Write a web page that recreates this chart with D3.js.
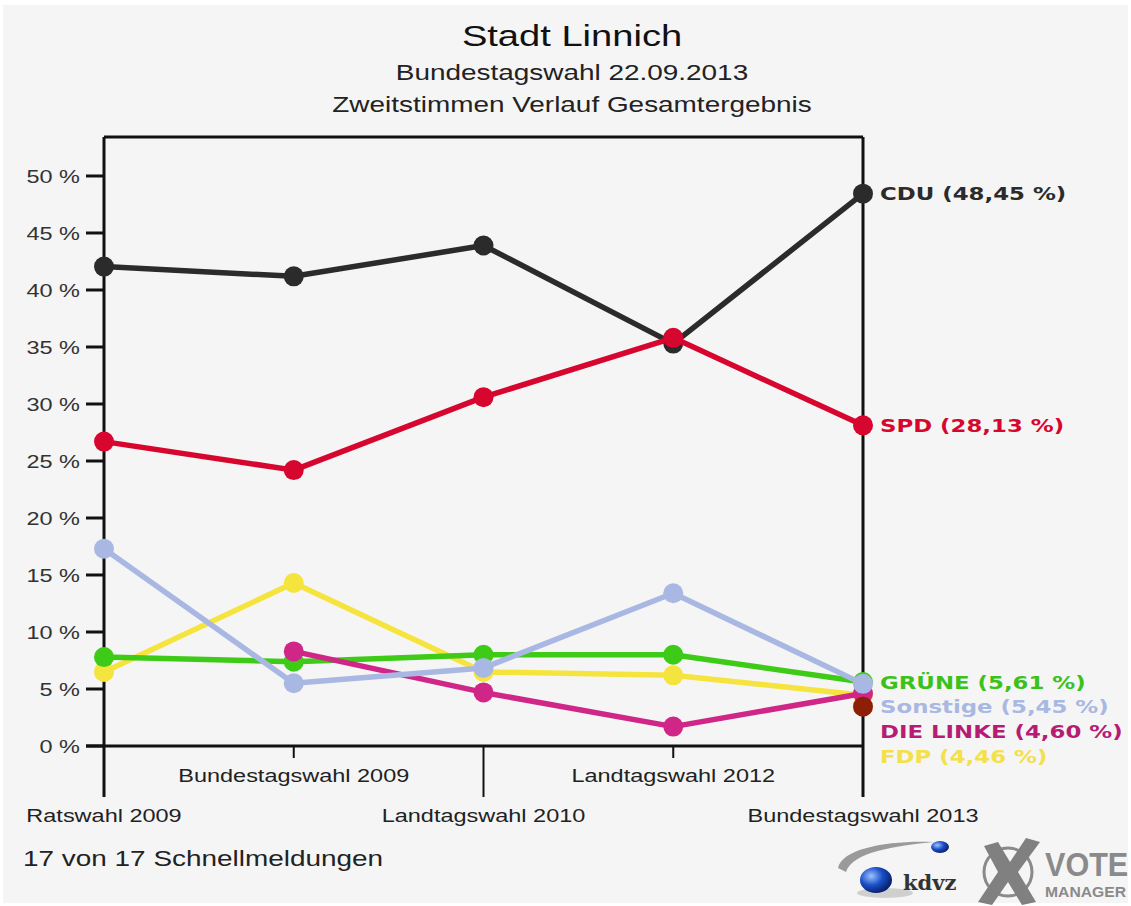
<!DOCTYPE html>
<html>
<head>
<meta charset="utf-8">
<script src="https://cdn.jsdelivr.net/npm/d3@7"></script>
<style>
  html, body { margin: 0; padding: 0; background: #fff; }
  svg { display: block; }
</style>
</head>
<body>
<div id="chart"></div>
<script>
/* ===== data ===== */
const CATEGORIES = ['Ratswahl 2009', 'Bundestagswahl 2009', 'Landtagswahl 2010', 'Landtagswahl 2012', 'Bundestagswahl 2013'];
const CDU      = [42.05, 41.2, 43.9, 35.3, 48.45];
const SPD      = [26.7, 24.2, 30.6, 35.8, 28.13];
const FDP      = [6.5, 14.3, 6.5, 6.2, 4.46];
const GRUENE   = [7.8, 7.4, 8.0, 8.0, 5.61];
const LINKE    = [null, 8.3, 4.7, 1.7, 4.60];
const SONSTIGE = [17.3, 5.5, 6.85, 13.4, 5.45];
const AFD      = [null, null, null, null, 3.45];
const Y_TICKS  = [0, 5, 10, 15, 20, 25, 30, 35, 40, 45, 50];

const TITLE = 'Stadt Linnich';
const SUBTITLE = 'Bundestagswahl 22.09.2013';
const SUBTITLE2 = 'Zweitstimmen Verlauf Gesamtergebnis';
const FOOTER = '17 von 17 Schnellmeldungen';

// drawing order matters: later series sit on top
const SERIES = [
  { name: 'CDU',       values: CDU,      color: '#2b2b2b', labelColor: '#2b2b2b', label: true },
  { name: 'SPD',       values: SPD,      color: '#d7062f', labelColor: '#d7062f', label: true },
  { name: 'FDP',       values: FDP,      color: '#f6e43e', labelColor: '#f3e04a', label: true },
  { name: 'GRÜNE',     values: GRUENE,   color: '#3dcb17', labelColor: '#3bc21a', label: true },
  { name: 'DIE LINKE', values: LINKE,    color: '#cf2687', labelColor: '#b61c74', label: true },
  { name: 'Sonstige',  values: SONSTIGE, color: '#a9b8e2', labelColor: '#a9b8e2', label: true },
  { name: 'AfD',       values: AFD,      color: '#8c1f05', labelColor: '#8c1f05', label: false },
];

/* ===== layout ===== */
const W = 1131, H = 906;
const SX = 1.27;                  // the source picture is stretched sideways
const plot = { left: 104, right: 863, top: 137, bottom: 746 };

const svg = d3.select('#chart').append('svg')
  .attr('width', W).attr('height', H);

svg.append('rect').attr('width', W).attr('height', H).attr('fill', '#fff');
svg.append('rect').attr('x', 3).attr('y', 5).attr('width', W - 6).attr('height', H - 8)
  .attr('fill', '#f5f5f5');

const x = d3.scalePoint().domain(CATEGORIES).range([plot.left, plot.right]);
const y = d3.scaleLinear().domain([0, 53.42]).range([plot.bottom, plot.top]);

function stretched(parent, px, py, str, size, opts = {}) {
  const g = parent.append('g').attr('transform', `translate(${px},${py}) scale(${opts.sx || SX},1)`);
  const t = g.append('text')
    .attr('text-anchor', opts.anchor || 'start')
    .attr('font-family', opts.family || '"Liberation Sans", Arial, sans-serif')
    .attr('font-size', size)
    .attr('font-weight', opts.weight || 'normal')
    .attr('fill', opts.fill || '#222')
    .text(str);
  if (opts.dy) t.attr('dy', opts.dy);
  return t;
}

// titles
const cx = 572;
stretched(svg, cx, 46, TITLE, 30, { anchor: 'middle', fill: '#111' });
stretched(svg, cx, 80, SUBTITLE, 22, { anchor: 'middle', fill: '#222' });
stretched(svg, cx, 112, SUBTITLE2, 22, { anchor: 'middle', fill: '#222' });

// frame
const frame = svg.append('g').attr('stroke', '#111').attr('stroke-width', 3).attr('fill', 'none');
frame.append('line').attr('x1', plot.left).attr('x2', plot.right)
  .attr('y1', plot.top).attr('y2', plot.top);
frame.append('line').attr('x1', plot.left - 18).attr('x2', plot.right)
  .attr('y1', plot.bottom).attr('y2', plot.bottom);

// y ticks
Y_TICKS.forEach(t => {
  frame.append('line').attr('x1', plot.left - 18).attr('x2', plot.left)
    .attr('y1', y(t)).attr('y2', y(t));
  stretched(svg, plot.left - 24, y(t), `${t} %`, 18.5,
    { anchor: 'end', fill: '#333', dy: '0.36em' });
});

// x ticks: alternating long and short
CATEGORIES.forEach((c, i) => {
  const long = i % 2 === 0;
  const yEnd = long ? 797 : 758;
  const edge = i === 0 || i === CATEGORIES.length - 1;
  frame.append('line').attr('x1', x(c)).attr('x2', x(c))
    .attr('y1', edge ? plot.top : plot.bottom)
    .attr('y2', yEnd)
    .attr('stroke-width', edge ? 3 : 2);
  stretched(svg, x(c), long ? 822 : 782, c, 18.5, { anchor: 'middle', fill: '#222' });
});

// data lines and dots
const line = d3.line()
  .defined(d => d.v != null)
  .x(d => x(d.c))
  .y(d => y(d.v));

SERIES.forEach(s => {
  const pts = s.values.map((v, i) => ({ c: CATEGORIES[i], v }));
  svg.append('path')
    .datum(pts)
    .attr('d', line)
    .attr('fill', 'none')
    .attr('stroke', s.color)
    .attr('stroke-width', 5.5)
    .attr('stroke-linejoin', 'round');
  svg.append('g').selectAll('circle')
    .data(pts.filter(d => d.v != null))
    .join('circle')
    .attr('cx', d => x(d.c))
    .attr('cy', d => y(d.v))
    .attr('r', 10)
    .attr('fill', s.color);
});

// end labels with simple collision avoidance
const fmt = v => d3.format('.2f')(v).replace('.', ',');
const last = CATEGORIES.length - 1;
const labels = SERIES.filter(s => s.label)
  .map(s => ({ s, v: s.values[last], ty: y(s.values[last]) }))
  .sort((a, b) => a.ty - b.ty);
const GAP = 24.7;
for (let i = 1; i < labels.length; i++) {
  if (labels[i].ty < labels[i - 1].ty + GAP) labels[i].ty = labels[i - 1].ty + GAP;
}
labels.forEach(l => {
  stretched(svg, plot.right + 17, l.ty, `${l.s.name} (${fmt(l.v)} %)`, 18, {
    family: '"DejaVu Sans", Verdana, sans-serif', weight: 'bold',
    fill: l.s.labelColor, dy: '0.36em'
  });
});

// footer
stretched(svg, 23, 866, FOOTER, 22, { fill: '#222' });

/* ===== logos (rough) ===== */
const logo = svg.append('g');
const grad = svg.append('defs').append('radialGradient').attr('id', 'ball')
  .attr('cx', '35%').attr('cy', '35%').attr('r', '65%');
grad.append('stop').attr('offset', '0%').attr('stop-color', '#9ec3ff');
grad.append('stop').attr('offset', '55%').attr('stop-color', '#1a4fc8');
grad.append('stop').attr('offset', '100%').attr('stop-color', '#0a2470');
logo.append('path')
  .attr('d', 'M838,868 C842,848 890,840 934,842 C895,846 852,852 846,872 Z')
  .attr('fill', '#9a9a9a');
logo.append('ellipse').attr('cx', 885).attr('cy', 893).attr('rx', 28).attr('ry', 5)
  .attr('fill', '#cfcfcf');
logo.append('ellipse').attr('cx', 876).attr('cy', 880).attr('rx', 16).attr('ry', 13)
  .attr('fill', 'url(#ball)');
logo.append('ellipse').attr('cx', 940).attr('cy', 847).attr('rx', 9).attr('ry', 6)
  .attr('fill', 'url(#ball)');
logo.append('text').attr('x', 903).attr('y', 890)
  .attr('font-family', '"DejaVu Serif", serif').attr('font-weight', 'bold')
  .attr('font-size', 21).attr('fill', '#333').text('kdvz');

logo.append('circle').attr('cx', 1008).attr('cy', 872).attr('r', 24)
  .attr('fill', 'none').attr('stroke', '#8a8a8a').attr('stroke-width', 3);
logo.append('path')
  .attr('d', 'M984,846 L998,842 L1010,862 L1026,838 L1040,842 L1018,872 L1036,902 L1022,905 L1008,882 L992,905 L978,902 L998,872 Z')
  .attr('fill', '#808080');
stretched(logo, 1045, 876, 'VOTE', 34, { weight: 'bold', fill: '#8a8a8a', sx: 0.9 });
stretched(logo, 1045, 897, 'MANAGER', 14, { weight: 'bold', fill: '#8a8a8a', sx: 1.12 });
</script>
</body>
</html>
